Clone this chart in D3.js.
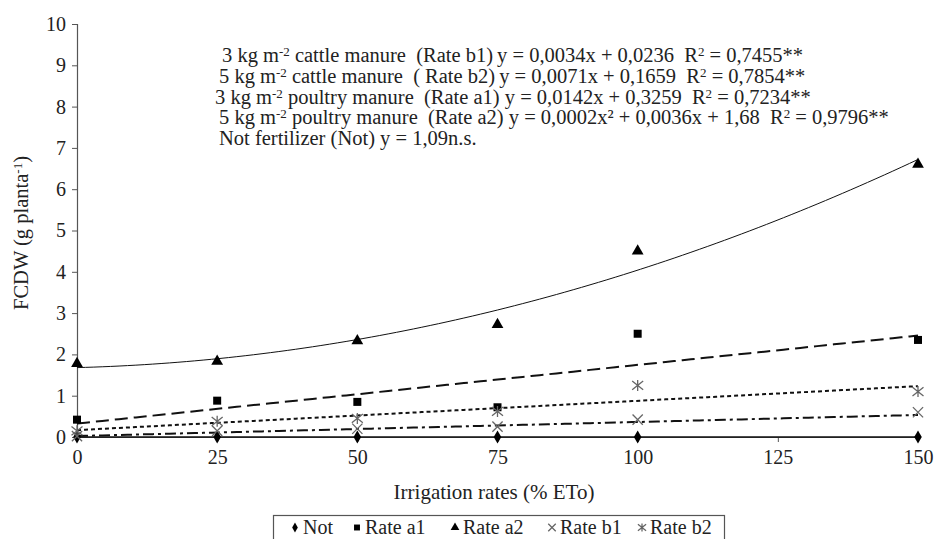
<!DOCTYPE html>
<html><head><meta charset="utf-8">
<script src="https://cdn.jsdelivr.net/npm/d3@7"></script>
<style>body{margin:0;background:#fff}svg{display:block}</style>
</head><body><svg id="c" width="936" height="539"></svg>
<script>
const xValues = [0, 25, 50, 75, 100, 150];
const notValues = [0, 0, 0, 0, 0, 0];
const rateA1 = [0.42, 0.88, 0.85, 0.72, 2.5, 2.35];
const rateA2 = [1.78, 1.83, 2.33, 2.72, 4.5, 6.6];
const rateB1 = [0.02, 0.15, 0.2, 0.25, 0.42, 0.6];
const rateB2 = [0.15, 0.38, 0.45, 0.62, 1.25, 1.1];
// fitted equation coefficients [c2, c1, c0]
const fitNot = [0, 0, 0];
const fitA1 = [0, 0.0142, 0.3259];
const fitA2 = [0.0002, 0.0036, 1.68];
const fitB1 = [0, 0.0034, 0.0236];
const fitB2 = [0, 0.0071, 0.1659];
const xTicks = [0, 25, 50, 75, 100, 125, 150];
const yTicks = [0,1,2,3,4,5,6,7,8,9,10];
const equations = [
  ["3 kg m", "-2", " cattle manure  (Rate b1)\u2009y = 0,0034x + 0,0236  R", "2", " = 0,7455**"],
  ["5 kg m", "-2", " cattle manure  ( Rate b2)\u2009y = 0,0071x + 0,1659  R", "2", " = 0,7854**"],
  ["3 kg m", "-2", " poultry manure  (Rate a1) y = 0,0142x + 0,3259  R", "2", " = 0,7234**"],
  ["5 kg m", "-2", " poultry manure  (Rate a2) y = 0,0002x² + 0,0036x + 1,68  R", "2", " = 0,9796**"],
  ["Not fertilizer (Not) y = 1,09n.s."]
];
const eqX = [222, 219, 215, 219, 219];

const FONT = "'Liberation Serif'";
const svg = d3.select("#c");
const x = d3.scaleLinear().domain([0,150]).range([77,918]);
const y = d3.scaleLinear().domain([0,10]).range([437,24]);

const axisColor = "#555";
const gy = svg.append("g").attr("transform","translate(77,0)")
  .call(d3.axisLeft(y).tickValues(yTicks).tickSize(5).tickPadding(6).tickFormat(d3.format("d")));
const gx = svg.append("g").attr("transform","translate(0,437)")
  .call(d3.axisBottom(x).tickValues(xTicks).tickSize(5).tickPadding(8).tickFormat(d3.format("d")));
[gx,gy].forEach(g=>{
  g.select(".domain").attr("stroke",axisColor).attr("stroke-width",1.2);
  g.selectAll(".tick line").attr("stroke",axisColor);
  g.selectAll(".tick text").attr("fill","#222").style("font-family",FONT).style("font-size","20px");
});

const series = [
  {name:"Not", vals:notValues, fit:fitNot, dash:null, sym:"diamond"},
  {name:"Rate a1", vals:rateA1, fit:fitA1, dash:"13,6", sym:"square"},
  {name:"Rate a2", vals:rateA2, fit:fitA2, dash:null, sym:"triangle"},
  {name:"Rate b1", vals:rateB1, fit:fitB1, dash:"11,4,3,4", sym:"x"},
  {name:"Rate b2", vals:rateB2, fit:fitB2, dash:"4,3", sym:"star"}
];

const line = d3.line().x(d=>x(d[0])).y(d=>y(d[1]));
series.forEach(s=>{
  const pts = d3.range(0,150.01,1.5).map(v=>[v, s.fit[0]*v*v + s.fit[1]*v + s.fit[2]]);
  svg.append("path").attr("d",line(pts)).attr("fill","none").attr("stroke","#111")
    .attr("stroke-width", s.sym==="triangle"?1:(s.sym==="diamond"?1.3:2))
    .attr("stroke-dasharray", s.dash);
});

function drawSym(g, sym, cx, cy, scale){
  scale = scale||1;
  if(sym==="diamond") g.append("path").attr("d",d3.symbol(d3.symbolDiamond, 50*scale)()).attr("transform",`translate(${cx},${cy})`).attr("fill","#000");
  if(sym==="square") g.append("path").attr("d",d3.symbol(d3.symbolSquare, 64*scale)()).attr("transform",`translate(${cx},${cy})`).attr("fill","#000");
  if(sym==="triangle") g.append("path").attr("d",d3.symbol(d3.symbolTriangle, 60*scale)()).attr("transform",`translate(${cx},${cy})`).attr("fill","#000");
  if(sym==="x") g.append("path").attr("d",d3.symbol(d3.symbolTimes, 70*scale)()).attr("transform",`translate(${cx},${cy})`).attr("fill","none").attr("stroke","#666").attr("stroke-width",1.3);
  if(sym==="star"){
    const r=5.5*Math.sqrt(scale);
    g.append("path").attr("d",`M${-r},${-r*0.8}L${r},${r*0.8}M${-r},${r*0.8}L${r},${-r*0.8}M0,${-r}L0,${r}`)
      .attr("transform",`translate(${cx},${cy})`).attr("fill","none").attr("stroke","#666").attr("stroke-width",1.3);
  }
}
series.forEach(s=>{
  const g = svg.append("g");
  s.vals.forEach((v,i)=>drawSym(g, s.sym, x(xValues[i]), y(v)));
});

function txt(sel){ return sel.style("font-family",FONT).attr("fill","#222").style("white-space","pre"); }

// equations
equations.forEach((parts,i)=>{
  const t = txt(svg.append("text")).attr("x",eqX[i]).attr("y",62+i*20.8).style("font-size","20.5px");
  parts.forEach((p,j)=>{
    const ts = t.append("tspan").text(p);
    if(j===1||j===3){ ts.style("font-size","13px").attr("dy",-6); }
    else if(j===2||j===4){ ts.attr("dy",6); }
  });
});

// axis titles
txt(svg.append("text")).attr("x",494).attr("y",499).attr("text-anchor","middle").style("font-size","21px").text("Irrigation rates (% ETo)");
const yl = txt(svg.append("text")).attr("transform","translate(28,233) rotate(-90)").attr("text-anchor","middle").style("font-size","20.5px");
yl.append("tspan").text("FCDW (g planta");
yl.append("tspan").text("-1").style("font-size","13px").attr("dy",-6);
yl.append("tspan").text(")").attr("dy",6);

// legend
const lg = svg.append("g");
lg.append("rect").attr("x",273.5).attr("y",515.5).attr("width",451).attr("height",30).attr("fill","#fff").attr("stroke","#555").attr("stroke-width",1.2);
const legX = [295, 357, 455, 552, 642];
series.forEach((s,i)=>{
  drawSym(lg, s.sym, legX[i], 527.5, 0.55);
  txt(lg.append("text")).attr("x",legX[i]+8).attr("y",534).style("font-size","20px").text(s.name);
});
</script></body></html>
